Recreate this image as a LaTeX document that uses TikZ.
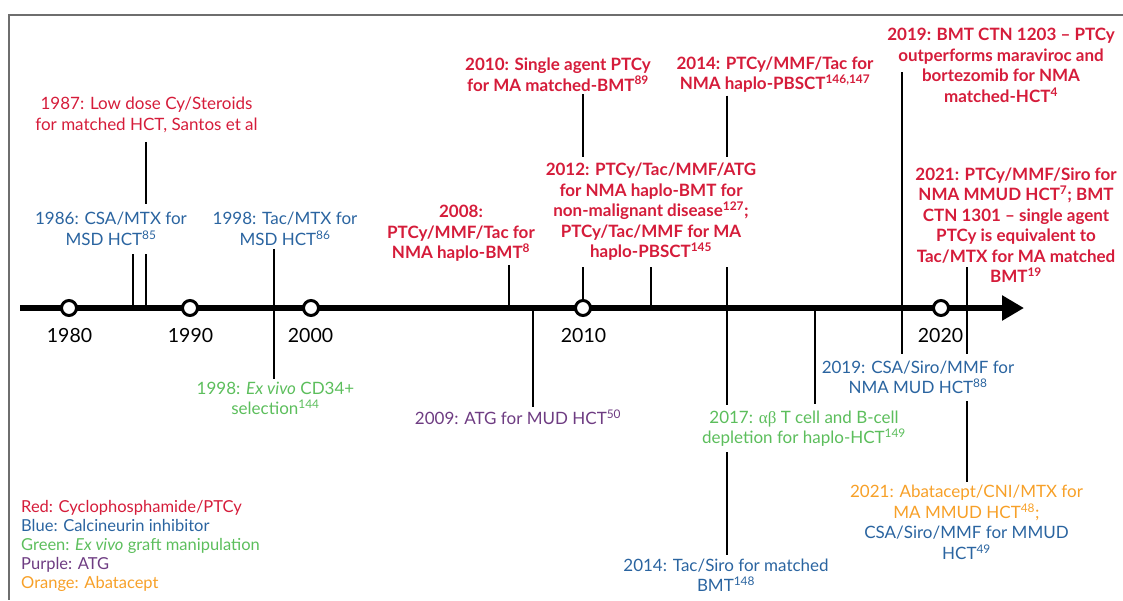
\documentclass[tikz,border=0pt]{standalone}
\usepackage{fontspec}
\setmainfont{Lato}
\newfontfamily\greekfont{Liberation Serif}
\usetikzlibrary{arrows.meta,backgrounds}
\definecolor{cred}{RGB}{213,28,58}
\definecolor{cblue}{RGB}{42,100,160}
\definecolor{cgreen}{RGB}{92,190,92}
\definecolor{cpurple}{RGB}{110,60,130}
\definecolor{corange}{RGB}{247,160,40}
\definecolor{cframe}{RGB}{110,110,110}
\tikzset{
  txt/.style={align=center, inner sep=3pt, font=\fontsize{17}{20.5}\selectfont},
  redb/.style={txt, text=cred, font=\fontsize{17}{20.5}\selectfont\bfseries},
  redr/.style={txt, text=cred},
  bluet/.style={txt, text=cblue},
  greent/.style={txt, text=cgreen},
  purplet/.style={txt, text=cpurple},
  oranget/.style={txt, text=corange},
  cover/.style={fill=white},
  conn/.style={draw=black, line width=1.3pt},
  yearc/.style={circle, draw=black, line width=3pt, fill=white, minimum size=15pt, inner sep=0pt},
  yearl/.style={font=\fontsize{19.5}{22}\selectfont, text=black},
  legend/.style={align=left, anchor=north west, inner sep=0pt, font=\fontsize{16.5}{19}\selectfont}
}
\begin{document}
\begin{tikzpicture}[x=1pt,y=-1pt]
\useasboundingbox (0,0) rectangle (1123,600);
% frame
\draw[cframe, line width=1.5pt] (1123,15) -- (9,15) -- (9,600);

% timeline coordinates
\coordinate (tl0) at (20,308);
\coordinate (tl1) at (1024,308);
\coordinate (b1986) at (133,308);
\coordinate (b1987) at (146,308);
\coordinate (b1998) at (274,308);
\coordinate (b2008) at (509,308);
\coordinate (b2009) at (533,308);
\coordinate (b2012) at (651,308);
\coordinate (b2014) at (727,308);
\coordinate (b2017) at (815,308);
\coordinate (s2019) at (902,72);
\coordinate (s2021) at (967,267);

% year circles
\node[yearc] (c1980) at (69,308) {};
\node[yearc] (c1990) at (190,308) {};
\node[yearc] (c2000) at (311,308) {};
\node[yearc] (c2010) at (583,308) {};
\node[yearc] (c2020) at (941,308) {};
\node[yearl] (y1980) at (69.5,335.5) {1980};
\node[yearl] (y1990) at (190.5,335.5) {1990};
\node[yearl] (y2000) at (310.5,335.5) {2000};
\node[yearl] (y2010) at (583.5,335.5) {2010};
\node[yearl] (y2020) at (940.5,335.5) {2020};

% events
\node[redr] (n1987) at (146.5,115) {1987: Low dose Cy/Steroids\\for matched HCT, Santos et al};
\node[bluet, cover, inner sep=8pt] (n1986) at (111,229) {1986: CSA/MTX for\\MSD HCT\textsuperscript{85}};
\node[bluet] (n1998a) at (285,229) {1998: Tac/MTX for\\MSD HCT\textsuperscript{86}};
\node[greent] (n1998b) at (275.5,398.5) {1998: \textit{Ex vivo} CD34+\\selection\textsuperscript{144}};
\node[redb] (n2008) at (461,233.5) {2008:\\PTCy/MMF/Tac for\\NMA haplo-BMT\textsuperscript{8}};
\node[purplet] (n2009) at (518,417.5) {2009: ATG for MUD HCT\textsuperscript{50}};
\node[redb] (n2010) at (558,74.5) {2010: Single agent PTCy\\for MA matched-BMT\textsuperscript{89}};
\node[redb, cover, inner sep=6pt] (n2012) at (651,212) {2012: PTCy/Tac/MMF/ATG\\for NMA haplo-BMT for\\non-malignant disease\textsuperscript{127};\\PTCy/Tac/MMF for MA\\haplo-PBSCT\textsuperscript{145}};
\node[redb] (n2014a) at (775,74.5) {2014: PTCy/MMF/Tac for\\NMA haplo-PBSCT\textsuperscript{146,147}};
\node[bluet] (n2014b) at (726,575) {2014: Tac/Siro for matched\\BMT\textsuperscript{148}};
\node[greent, cover, inner sep=6pt] (n2017) at (804,428.5) {2017: {\greekfont αβ} T cell and B-cell\\depletion for haplo-HCT\textsuperscript{149}};
\node[redb] (n2019a) at (1001,65.5) {2019: BMT CTN 1203 -- PTCy\\outperforms maraviroc and\\bortezomib for NMA\\matched-HCT\textsuperscript{4}};
\node[bluet, cover, inner xsep=1pt, inner ysep=7pt] (n2019b) at (918,377.5) {2019: CSA/Siro/MMF for\\NMA MUD HCT\textsuperscript{88}};
\node[redb] (n2021a) at (1016,225) {2021: PTCy/MMF/Siro for\\NMA MMUD HCT\textsuperscript{7}; BMT\\CTN 1301 -- single agent\\PTCy is equivalent to\\Tac/MTX for MA matched\\BMT\textsuperscript{19}};
\node[oranget] (n2021b) at (966.5,522.5) {2021: Abatacept/CNI/MTX for\\MA MMUD HCT\textsuperscript{48};\\\textcolor{cblue}{CSA/Siro/MMF for MMUD}\\\textcolor{cblue}{HCT\textsuperscript{49}}};

% legend
\node[legend] (leg) at (21,500) {\textcolor{cred}{Red: Cyclophosphamide/PTCy}\\\textcolor{cblue}{Blue: Calcineurin inhibitor}\\\textcolor{cgreen}{Green: \textit{Ex vivo} graft manipulation}\\\textcolor{cpurple}{Purple: ATG}\\\textcolor{corange}{Orange: Abatacept}};

% connector drawn on top (runs just left of the 2019 label)
\draw[conn] (b2017) -- (b2017 |- n2017.north);

\begin{pgfonlayer}{background}
\draw[line width=6pt, -{Triangle[length=22pt,width=24pt]}] (tl0) -- (tl1);
\draw[conn] (n1986.south -| b1986) -- (b1986);
\draw[conn, shorten <=6pt] (n1987.south -| b1987) -- (b1987);
\draw[conn] (n1998a.south -| b1998) -- (n1998b.north -| b1998);
\draw[conn] (n2008.south -| b2008) -- (b2008);
\draw[conn] (b2009) -- (n2009.north -| b2009);
\draw[conn] (n2010.south -| c2010) -- (c2010.north);
\draw[conn] (n2012.south -| b2012) -- (b2012);
\draw[conn] (n2014a.south -| b2014) -- (n2014b.north -| b2014);
\draw[conn] (s2019) -- (n2019b.north -| s2019);
\draw[conn] (s2021) -- (n2021b.north -| s2021);
\end{pgfonlayer}
\end{tikzpicture}
\end{document}
